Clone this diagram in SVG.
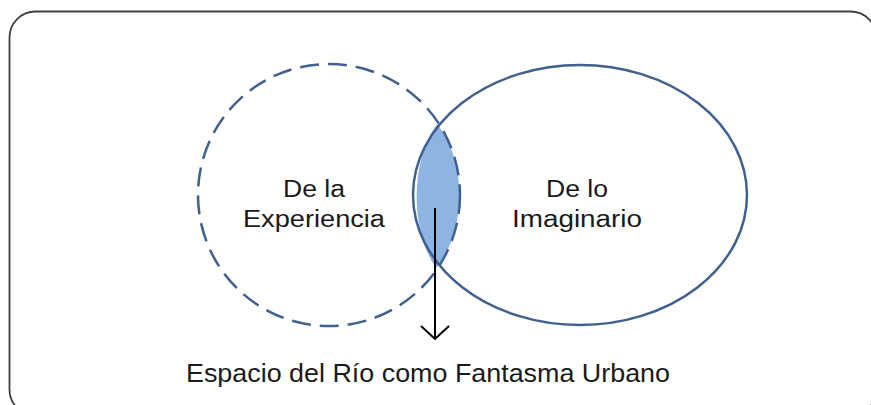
<svg xmlns="http://www.w3.org/2000/svg" width="871" height="405" viewBox="0 0 871 405">
<style>
.lbl{font-family:"Century Gothic","URW Gothic","Liberation Sans",sans-serif;fill:#1a1a1a;text-anchor:middle}
.set{fill:none;stroke:#3f6090;stroke-width:2.5}
</style>
<rect x="9.5" y="11.5" width="867" height="404" rx="26" ry="26" fill="#ffffff" stroke="#404040" stroke-width="1.8"/>
<g id="overlap">
<path d="M437,124 C410,162 410,230 436,268 C467,232 467,160 437,124 Z" fill="#8eb4e3"/>
</g>
<g id="experiencia">
<circle class="set" cx="329" cy="195" r="131" stroke-dasharray="19 9"/>
<text class="lbl" x="314" y="197" font-size="23" textLength="62" lengthAdjust="spacingAndGlyphs">De la</text>
<text class="lbl" x="314" y="227" font-size="23" textLength="142" lengthAdjust="spacingAndGlyphs">Experiencia</text>
</g>
<g id="imaginario">
<ellipse class="set" cx="580" cy="195" rx="167" ry="130"/>
<text class="lbl" x="577" y="197" font-size="23" textLength="62" lengthAdjust="spacingAndGlyphs">De lo</text>
<text class="lbl" x="577" y="227" font-size="23" textLength="130" lengthAdjust="spacingAndGlyphs">Imaginario</text>
</g>
<g id="connectors">
<line x1="435" y1="208" x2="435" y2="338" stroke="#000" stroke-width="2"/>
<polyline points="421,326 435,339 449,326" fill="none" stroke="#000" stroke-width="2"/>
</g>
<g id="espacio">
<text class="lbl" x="428" y="382" font-size="25" textLength="484" lengthAdjust="spacingAndGlyphs">Espacio del Río como Fantasma Urbano</text>
</g>
</svg>
